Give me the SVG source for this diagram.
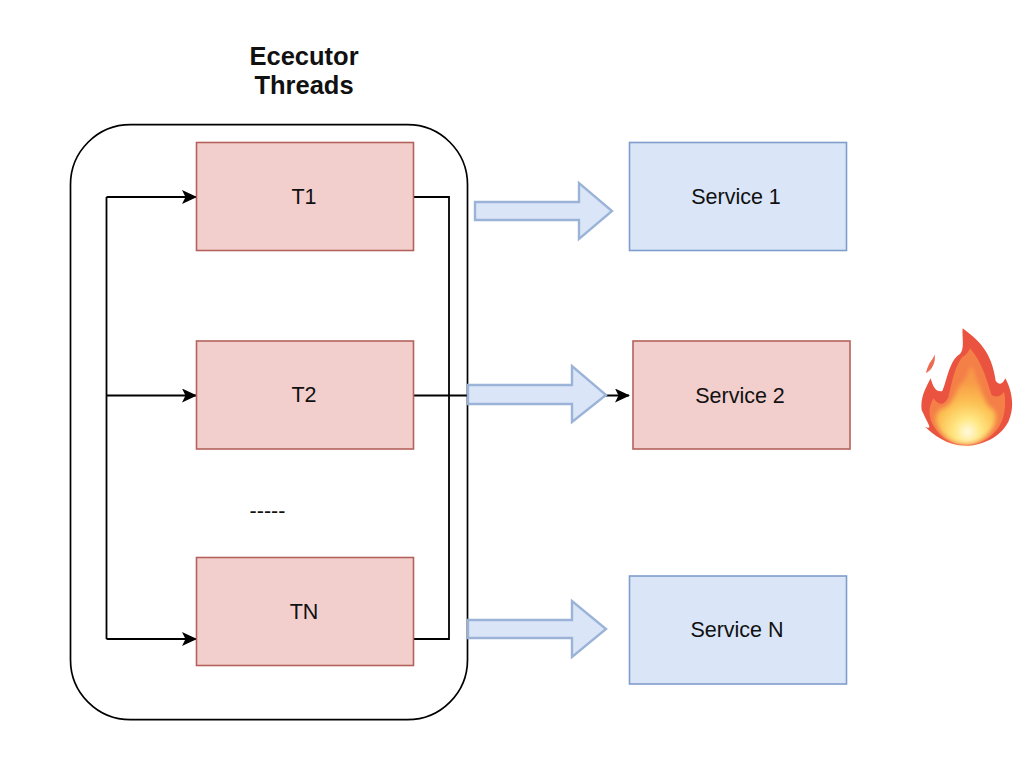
<svg xmlns="http://www.w3.org/2000/svg" width="1023" height="758" viewBox="0 0 1023 758">
<style>
.red{fill:#f2cfcd;stroke:#b4625c;stroke-width:1.6}
.blue{fill:#dae6f8;stroke:#7f9dcb;stroke-width:1.6}
.big{fill:#dae6f8;stroke:#9cb3d8;stroke-width:2.400}
.ln{fill:none;stroke:#000;stroke-width:1.8}
text{font-family:"Liberation Sans",Arial,sans-serif;font-size:21.500px;text-anchor:middle;fill:#111}
.b{font-weight:bold;font-size:25.500px}
</style>
<defs>
<marker id="ah" markerUnits="userSpaceOnUse" markerWidth="16" markerHeight="16" refX="14" refY="7" orient="auto"><path d="M0,0 L15,7 L0,14 L3.5,7 Z" fill="#000"/></marker>
<radialGradient id="core" gradientUnits="userSpaceOnUse" cx="203" cy="365" r="150">
<stop offset="0" stop-color="#fffbe8"/><stop offset=".25" stop-color="#ffe985"/><stop offset=".6" stop-color="#fcc052"/><stop offset="1" stop-color="#f89a48"/>
</radialGradient>
<filter id="soft" x="-10%" y="-10%" width="120%" height="120%"><feGaussianBlur stdDeviation="7"/></filter>
<filter id="edge" x="-5%" y="-5%" width="110%" height="110%"><feGaussianBlur stdDeviation="1.500"/></filter>
</defs>
<g id="executor-label"><text class="b" x="304" y="65">Ececutor</text><text class="b" x="304" y="94">Threads</text></g>
<g id="executor-pool"><rect x="70.500" y="124.700" width="397" height="595" rx="60" ry="60" fill="#fff" stroke="#000" stroke-width="1.700"/></g>
<g id="connectors">
<path class="ln" d="M413.500,197 H449 V639 H413.500"/>
<path class="ln" d="M106.500,197 V639"/>
<path class="ln" marker-end="url(#ah)" d="M106.500,197 H196"/>
<path class="ln" marker-end="url(#ah)" d="M106.500,395.500 H196"/>
<path class="ln" marker-end="url(#ah)" d="M106.500,639 H196"/>
<path class="ln" marker-end="url(#ah)" d="M413.500,395.500 H629"/>
</g>
<g id="t1"><rect class="red" x="196.500" y="142.500" width="217" height="108"/><text x="304" y="204">T1</text></g>
<g id="t2"><rect class="red" x="196.500" y="341" width="217" height="108"/><text x="304" y="402">T2</text></g>
<g id="dots"><text x="267.500" y="518">-----</text></g>
<g id="tn"><rect class="red" x="196.500" y="557.500" width="217" height="108"/><text x="304" y="619">TN</text></g>
<g id="arrow-1"><path class="big" d="M475,202 H579 V183 L612,211 L579,239 V220 H475 Z"/></g>
<g id="arrow-2"><path class="big" d="M468,385 H572 V366 L606,395 L572,422 V404 H468 Z"/></g>
<g id="arrow-n"><path class="big" d="M468,620 H572 V601 L606,629 L572,657 V638 H468 Z"/></g>
<g id="service-1"><rect class="blue" x="629.500" y="142.500" width="217" height="108"/><text x="736" y="204">Service 1</text></g>
<g id="service-2"><rect class="red" x="633" y="341" width="217" height="108"/><text x="740" y="403">Service 2</text></g>
<g id="service-n"><rect class="blue" x="629.500" y="576" width="217" height="108"/><text x="737" y="637">Service N</text></g>
<g id="flame" transform="translate(900 310) scale(.33333)">
<g filter="url(#edge)">
<path fill="#ea5340" d="M188,55 C235,90 275,125 287,212 C297,226 308,224 316,205 C335,240 346,290 325,335 C300,385 240,407 200,407 C165,407 120,395 75,350 C100,360 85,345 65,300 C60,260 80,230 92,205 C100,235 110,247 127,243 C140,215 148,150 180,132 C195,115 185,80 188,55 Z"/>
<path fill="#ec6a50" d="M104,133 C100,150 85,155 78,190 C95,180 108,160 104,133 Z"/>
</g>
<path fill="#f47f47" filter="url(#edge)" d="M210,115 C250,160 262,220 275,255 C285,262 300,262 312,245 C320,280 315,330 290,360 C260,395 225,404 200,404 C160,404 115,385 92,330 C85,300 90,285 100,265 C115,285 130,290 145,262 C155,220 165,165 188,140 C200,135 205,125 210,115 Z"/>
<path fill="url(#core)" filter="url(#soft)" d="M212,165 C235,210 250,270 268,290 C285,300 292,310 285,340 C265,385 230,403 200,403 C165,403 125,385 108,335 C105,310 118,300 128,295 C150,290 165,260 175,230 C190,215 205,195 212,165 Z"/>
</g>
</svg>
